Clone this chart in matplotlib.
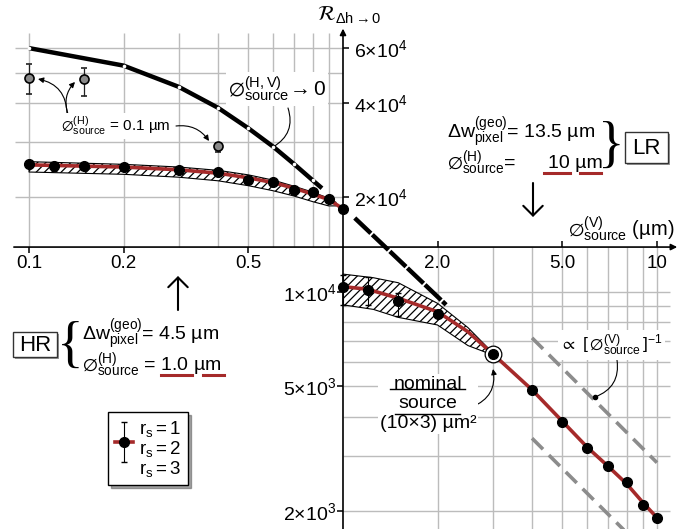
#%% Import modules
import matplotlib.pyplot as plt
from matplotlib.ticker import FixedLocator, FixedFormatter
from matplotlib.lines import Line2D
from matplotlib.patches import Rectangle
from matplotlib.container import ErrorbarContainer
from matplotlib.legend_handler import HandlerErrorbar, HandlerTuple

#%% Style
plt.rcParams['font.family'] = ['Liberation Sans', 'DejaVu Sans']
plt.rcParams['mathtext.fontset'] = 'custom'
plt.rcParams['mathtext.rm'] = 'Liberation Sans'
plt.rcParams['mathtext.it'] = 'Liberation Sans'
plt.rcParams['mathtext.sf'] = 'Liberation Sans'
plt.rcParams['mathtext.bf'] = 'Liberation Sans:bold'
plt.rcParams['mathtext.default'] = 'regular'
plt.rcParams['mathtext.fallback'] = 'stixsans'
plt.rcParams['hatch.linewidth'] = 0.9

#%% Data
# HR branch (upper left quadrant), r_s = 2 points and r_s = 1..3 spread
hr_x = [0.1, 0.12, 0.15, 0.2, 0.3, 0.4, 0.5, 0.6, 0.7, 0.8, 0.9, 1.0]
hr_y = [2.56e4, 2.52e4, 2.52e4, 2.50e4, 2.45e4, 2.41e4, 2.27e4, 2.24e4, 2.11e4, 2.08e4, 1.98e4, 1.84e4]
hr_err_lo = [300, 900, 600, 500, 300, 300, 200, 200, 200, 200, 100, 100]
hr_err_hi = [300, 400, 300, 300, 200, 200, 200, 200, 200, 200, 100, 100]

hr_fit_x = [0.1, 0.2, 0.3, 0.4, 0.5, 0.6, 0.7, 0.8, 0.9, 1.0]
hr_fit_y = [2.54e4, 2.50e4, 2.45e4, 2.39e4, 2.31e4, 2.23e4, 2.14e4, 2.05e4, 1.97e4, 1.84e4]

hr_band_x = [0.1, 0.2, 0.3, 0.4, 0.5, 0.6, 0.7, 0.8, 0.9, 0.95]
hr_band_hi = [2.60e4, 2.55e4, 2.50e4, 2.44e4, 2.36e4, 2.27e4, 2.17e4, 2.08e4, 1.99e4, 1.93e4]
hr_band_lo = [2.41e4, 2.37e4, 2.32e4, 2.26e4, 2.18e4, 2.10e4, 2.02e4, 1.94e4, 1.88e4, 1.88e4]

# source size -> 0 limit
lim_x = [0.1, 0.2, 0.3, 0.4, 0.5, 0.6, 0.7, 0.8, 0.857]
lim_y = [5.98e4, 5.26e4, 4.50e4, 3.86e4, 3.32e4, 2.90e4, 2.55e4, 2.27e4, 2.14e4]
lim_ext_x = [1.09, 1.5, 2.13]
lim_ext_y = [1.72e4, 1.27e4, 9.1e3]

# horizontal source 0.1 um
h01_x = [0.1, 0.15, 0.4]
h01_y = [4.80e4, 4.77e4, 2.92e4]
h01_lo = [4.27e4, 4.21e4, 2.80e4]
h01_hi = [5.32e4, 5.17e4, 2.98e4]

# LR branch (lower right quadrant)
lr_x = [1.0, 1.2, 1.5, 2.0, 3.0, 4.0, 5.0, 6.0, 7.0, 8.0, 9.0, 10.0]
lr_y = [1.04e4, 1.015e4, 9.36e3, 8.53e3, 6.35e3, 4.88e3, 3.86e3, 3.18e3, 2.80e3, 2.48e3, 2.09e3, 1.91e3]
lr_err_lo = [1300, 1050, 960, 0, 0, 0, 0, 0, 0, 0, 0, 0]
lr_err_hi = [900, 1050, 540, 0, 0, 0, 0, 0, 0, 0, 0, 0]

lr_fit_x = [1.0, 1.2, 1.5, 2.0, 2.5, 3.0, 4.0, 5.0, 6.0, 7.0, 8.0, 9.0, 10.0]
lr_fit_y = [1.04e4, 1.02e4, 9.55e3, 8.65e3, 7.47e3, 6.35e3, 4.88e3, 3.87e3, 3.20e3, 2.78e3, 2.45e3, 2.14e3, 1.91e3]

lr_band_x = [1.0, 1.25, 1.5, 2.0, 2.5, 3.0]
lr_band_hi = [1.14e4, 1.11e4, 1.07e4, 9.2e3, 7.7e3, 6.4e3]
lr_band_lo = [9.1e3, 8.8e3, 8.3e3, 7.85e3, 6.75e3, 6.3e3]

nominal_x = 3.0
nominal_y = 6.35e3

# 1/x guide lines
guide_x = [4.0, 10.0]
guide_hi = [7.14e3, 2.86e3]
guide_lo = [3.42e3, 1.37e3]

# ticks
xt_left = [0.1, 0.2, 0.5]
xt_left_lab = ['0.1', '0.2', '0.5']
xt_right = [2.0, 5.0, 10.0]
xt_right_lab = ['2.0', '5.0', '10']
yt_low = [2e3, 5e3, 1e4]
yt_low_lab = [r'$2{\times}10^3$', r'$5{\times}10^3$', r'$1{\times}10^4$']
yt_up = [2e4, 4e4, 6e4]
yt_up_lab = [r'$2{\times}10^4$', r'$4{\times}10^4$', r'$6{\times}10^4$']

grid_ul_x = [0.1, 0.2, 0.3, 0.4, 0.5, 0.6, 0.7, 0.8, 0.9]
grid_ul_y = [2e4, 3e4, 4e4, 5e4, 6e4]
grid_lr_x = [2, 3, 4, 5, 6, 7, 8, 9, 10]
grid_lr_y = [2e3, 3e3, 4e3, 5e3, 6e3, 7e3, 8e3, 9e3, 1e4]

#%% Figure
W, H = 694, 529
red = '#a52a2a'
grid_c = '#bcbcbc'
x_cross, y_cross = 1.0, 1.39e4

def fxy(px, py):
    return (px / W, 1 - py / H)

fig = plt.figure(figsize=(W / 100, H / 100), dpi=100)
ax = fig.add_axes([0, 0, 1, 1])
ax.set_xscale('log')
ax.set_yscale('log')
ax.set_xlim(0.08083, 13.12)
ax.set_ylim(1758, 8.51e4)

# quadrant grids
ax.vlines(grid_ul_x, y_cross, 6.68e4, colors=grid_c, lw=1.0, zorder=0)
ax.hlines(grid_ul_y, 0.0902, x_cross, colors=grid_c, lw=1.0, zorder=0)
ax.vlines(grid_lr_x, 1758, y_cross, colors=grid_c, lw=1.0, zorder=0)
ax.hlines(grid_lr_y, x_cross, 10.99, colors=grid_c, lw=1.0, zorder=0)

# axes crossing at (1.0, y_cross)
for s in ['bottom', 'top']:
    ax.spines[s].set_position(('data', y_cross))
    ax.spines[s].set_visible(False)
for s in ['left', 'right']:
    ax.spines[s].set_position(('data', x_cross))
    ax.spines[s].set_visible(False)

ax.annotate('', xy=(11.6, y_cross), xytext=(0.0895, y_cross),
            arrowprops=dict(arrowstyle='-|>', lw=1.2, color='k', mutation_scale=9, shrinkA=0, shrinkB=0))
ax.annotate('', xy=(x_cross, 6.9e4), xytext=(x_cross, 1758),
            arrowprops=dict(arrowstyle='-|>', lw=1.2, color='k', mutation_scale=9, shrinkA=0, shrinkB=0))

ax.xaxis.set_major_locator(FixedLocator(xt_left))
ax.xaxis.set_major_formatter(FixedFormatter(xt_left_lab))
ax.xaxis.set_minor_locator(FixedLocator(xt_right))
ax.xaxis.set_minor_formatter(FixedFormatter(xt_right_lab))
ax.tick_params(axis='x', which='major', bottom=True, top=False, direction='out',
               length=4, width=1.1, labelsize=13.5, pad=2)
ax.tick_params(axis='x', which='minor', bottom=False, top=True, labelbottom=True, labeltop=False,
               direction='out', length=4, width=1.1, labelsize=13.5, pad=2)

ax.yaxis.set_major_locator(FixedLocator(yt_low))
ax.yaxis.set_major_formatter(FixedFormatter(yt_low_lab))
ax.yaxis.set_minor_locator(FixedLocator(yt_up))
ax.yaxis.set_minor_formatter(FixedFormatter(yt_up_lab))
ax.tick_params(axis='y', which='major', left=True, right=False, direction='out',
               length=4, width=1.1, labelsize=14, pad=1)
ax.tick_params(axis='y', which='minor', left=False, right=True, labelleft=False, labelright=True,
               direction='out', length=4, width=1.1, labelsize=14, pad=4)

#%% Curves
ax.fill_between(hr_band_x, hr_band_lo, hr_band_hi, facecolor='white', edgecolor='black',
                hatch='////', lw=0.8, zorder=2)
ax.fill_between(lr_band_x, lr_band_lo, lr_band_hi, facecolor='white', edgecolor='black',
                hatch='////', lw=0.8, zorder=2)

ax.plot(hr_fit_x, hr_fit_y, color=red, lw=2.6, zorder=3)
fit_line, = ax.plot(lr_fit_x, lr_fit_y, color=red, lw=2.6, zorder=3)

ax.errorbar(hr_x, hr_y, yerr=[hr_err_lo, hr_err_hi], fmt='o', color='black', ms=7,
            elinewidth=0.8, capsize=2, zorder=4)
lr_err = ax.errorbar(lr_x, lr_y, yerr=[lr_err_lo, lr_err_hi], fmt='o', color='black', ms=7,
                     elinewidth=0.8, capsize=2.5, zorder=4)

ax.plot(lim_x, lim_y, color='black', lw=3.2, solid_capstyle='butt', zorder=3)
ax.plot(lim_x[:-1], lim_y[:-1], 'o', ms=2.6, mfc='white', mec='none', zorder=3.5)
ax.plot(lim_ext_x, lim_ext_y, color='black', lw=3.2, ls=(0, (5, 0.45)), zorder=3)

ax.errorbar(h01_x, h01_y, yerr=[[y - l for y, l in zip(h01_y, h01_lo)], [h - y for y, h in zip(h01_y, h01_hi)]],
            fmt='o', mfc='#8a8a8a', mec='black', mew=1.2, ecolor='#222222', ms=6.5,
            elinewidth=0.9, capsize=2.5, zorder=4)

ax.plot(guide_x, guide_hi, color='#8c8c8c', lw=2.6, ls=(0, (4.3, 2.3)), zorder=2)
ax.plot(guide_x, guide_lo, color='#8c8c8c', lw=2.6, ls=(0, (4.3, 2.3)), zorder=2)

ax.plot(nominal_x, nominal_y, 'o', ms=12, mfc='white', mec='black', mew=0.9, zorder=5)
ax.plot(nominal_x, nominal_y, 'o', ms=7, color='black', zorder=6)

#%% Axis labels
fig.text(317 / W, 1 - 15 / H, r'$\mathcal{R}_{\Delta h\rightarrow 0}$', math_fontfamily='stixsans',
         fontsize=15, va='center', ha='left')
fig.text(*fxy(568, 229), r'$\emptyset^{(V)}_{source}$ (µm)', fontsize=14.5, va='center', ha='left')

#%% Annotations
white_box = dict(facecolor='white', edgecolor='none', pad=1.5)
fig.text(*fxy(228, 89), r'$\emptyset^{(H,V)}_{source}\!\rightarrow 0$', fontsize=15,
         va='center', ha='left', bbox=white_box, zorder=6)
ax.annotate('', xy=fxy(273, 147), xytext=fxy(288, 108), xycoords='figure fraction',
            arrowprops=dict(arrowstyle='-', lw=0.8, color='k', shrinkA=0, shrinkB=0,
                            connectionstyle='arc3,rad=-0.4'))

fig.text(*fxy(116, 126), r'$\emptyset^{(H)}_{source}$ = 0.1 µm', fontsize=11,
         va='center', ha='center', bbox=white_box, zorder=6)
head = dict(arrowstyle='-|>', lw=0.8, color='k', mutation_scale=8, shrinkA=0, shrinkB=0)
ax.annotate('', xy=fxy(38, 79), xytext=fxy(67, 114), xycoords='figure fraction',
            arrowprops=dict(head, connectionstyle='arc3,rad=0.4'))
ax.annotate('', xy=fxy(75, 82), xytext=fxy(68, 114), xycoords='figure fraction',
            arrowprops=dict(head, connectionstyle='arc3,rad=-0.3'))
ax.annotate('', xy=fxy(209, 141), xytext=fxy(176, 126), xycoords='figure fraction',
            arrowprops=dict(head, connectionstyle='arc3,rad=-0.3'))

# LR block
fig.text(*fxy(447, 133), r'$\Delta w^{(geo)}_{pixel}$= 13.5 µm', fontsize=14, va='center', ha='left')
fig.text(*fxy(447, 163), r'$\emptyset^{(H)}_{source}$=', fontsize=14, va='center', ha='left')
fig.text(*fxy(603, 163), '10 µm', fontsize=14, va='center', ha='right')
fig.text(*fxy(611, 148), '}', family='Liberation Serif', fontsize=40, va='center', ha='center')

# HR block
fig.text(*fxy(82, 335), r'$\Delta w^{(geo)}_{pixel}$= 4.5 µm', fontsize=14, va='center', ha='left')
fig.text(*fxy(82, 365), r'$\emptyset^{(H)}_{source}$ = 1.0 µm', fontsize=14, va='center', ha='left')
fig.text(*fxy(70, 348), '{', family='Liberation Serif', fontsize=40, va='center', ha='center')

for x0, x1, yy in [(544, 570, 173), (580, 601, 173), (161, 192, 375), (203, 224, 375)]:
    fig.add_artist(Line2D([x0 / W, x1 / W], [1 - yy / H, 1 - yy / H], color=red, lw=2.2, zorder=7))

# boxed labels with shadow
for (x0, y0, x1, y1), lab in [((625, 132, 668, 163), 'LR'), ((13, 332, 57, 357), 'HR')]:
    fig.add_artist(Rectangle((x0 / W + 2 / W, 1 - y1 / H - 2 / H), (x1 - x0) / W, (y1 - y0) / H,
                             transform=fig.transFigure, facecolor='#9a9a9a', edgecolor='none'))
    fig.add_artist(Rectangle((x0 / W, 1 - y1 / H), (x1 - x0) / W, (y1 - y0) / H,
                             transform=fig.transFigure, facecolor='white', edgecolor='#333333', lw=1.0))
    fig.text(*fxy((x0 + x1) / 2, (y0 + y1) / 2 + 1), lab, fontsize=16, va='center', ha='center')

# direction arrows
vhead = dict(arrowstyle='->,head_length=0.5,head_width=0.5', lw=1.5, color='k',
             mutation_scale=14, shrinkA=0, shrinkB=0)
ax.annotate('', xy=fxy(533, 217), xytext=fxy(533, 183), xycoords='figure fraction', arrowprops=vhead)
ax.annotate('', xy=fxy(178, 276), xytext=fxy(178, 310), xycoords='figure fraction', arrowprops=vhead)

# nominal source
fig.text(*fxy(428, 404), 'nominal\nsource\n(10×3) µm²', fontsize=14, va='center', ha='center',
         linespacing=1.22, bbox=white_box, zorder=6)
for x0, x1, yy in [(390, 465, 389), (395, 460, 414)]:
    fig.add_artist(Line2D([x0 / W, x1 / W], [1 - yy / H, 1 - yy / H], color='k', lw=1.0, zorder=7))
ax.annotate('', xy=fxy(493, 369), xytext=fxy(472, 407), xycoords='figure fraction',
            arrowprops=dict(head, connectionstyle='arc3,rad=0.4'))

# 1/x guide label
fig.text(*fxy(560, 345), r'$\propto\ [\,\emptyset^{(V)}_{source}\,]^{-1}$', fontsize=12.5,
         va='center', ha='left', bbox=white_box, zorder=6)
ax.annotate('', xy=fxy(595, 397), xytext=fxy(617, 360), xycoords='figure fraction',
            arrowprops=dict(arrowstyle='-', lw=0.8, color='k', shrinkA=0, shrinkB=0,
                            connectionstyle='arc3,rad=-0.4'))
fig.add_artist(Line2D([595 / W], [1 - 397 / H], marker='o', ms=3, color='k'))

#%% Legend
leg = ax.legend([(fit_line, lr_err)], ['$r_s = 1$\n$r_s = 2$\n$r_s = 3$'],
                handler_map={ErrorbarContainer: HandlerErrorbar(xerr_size=0.5, yerr_size=1.05),
                             tuple: HandlerTuple(ndivide=1)},
                loc='upper left', bbox_to_anchor=fxy(108, 412), bbox_transform=fig.transFigure,
                fancybox=False, shadow=True, edgecolor='black', framealpha=1, borderaxespad=0,
                handlelength=1.0, handleheight=3, handletextpad=0.3, borderpad=0.35, fontsize=13.5)
leg.get_frame().set_linewidth(1.0)
for t in leg.get_texts():
    t.set_linespacing(1.0)

fig.savefig('out.png', dpi=100, facecolor='white')
